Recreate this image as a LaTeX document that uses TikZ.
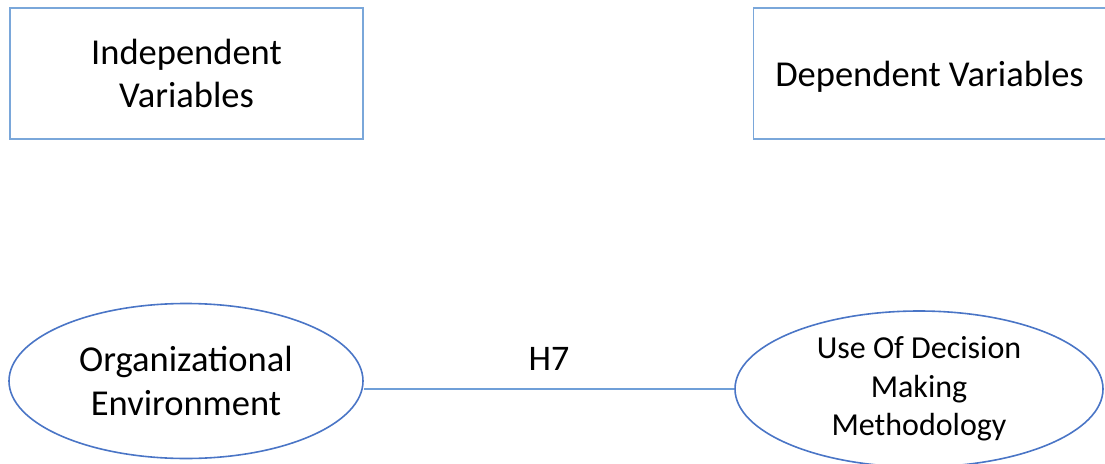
\documentclass[tikz,border=0pt]{standalone}
\usepackage{fontspec}
\setmainfont{Carlito}
\usetikzlibrary{shapes.geometric}
\definecolor{boxblue}{HTML}{7AA7DA}
\definecolor{ellblue}{HTML}{4A75C6}
\definecolor{linkblue}{HTML}{6F9FD8}
\begin{document}
\begin{tikzpicture}[x=1pt,y=-1pt,
  varbox/.style={draw=boxblue, line width=1.5pt, rectangle, inner sep=0pt, align=center,
    font=\fontsize{36.5}{43}\selectfont},
  varell/.style={draw=ellblue, line width=1.6pt, ellipse, inner sep=0pt, align=center},
  link/.style={draw=linkblue, line width=1.2pt}]
\useasboundingbox (0,0) rectangle (1105,463);
% variable group headers
\node[varbox, minimum width=353pt, minimum height=131pt] (indep) at (186.5,73.5) {Independent\\Variables};
\node[varbox, minimum width=352pt, minimum height=131pt, text depth=0pt] (dep) at (929.5,73.5) {Dependent Variables};
% constructs
\node[varell, minimum width=354pt, minimum height=155pt, text depth=0pt,
  font=\fontsize{36.5}{44}\selectfont] (org) at (186,381) {Organizational\\Environment};
\node[varell, minimum width=368pt, minimum height=156pt,
  font=\fontsize{32}{38.5}\selectfont] (use) at (919,389) {Use Of Decision\\Making\\Methodology};
% hypothesis link
\draw[link] (use.west) -- (use.west -| org.east) node[midway, above=15pt, font=\fontsize{36}{40}\selectfont] (h7) {H7};
\end{tikzpicture}
\end{document}
